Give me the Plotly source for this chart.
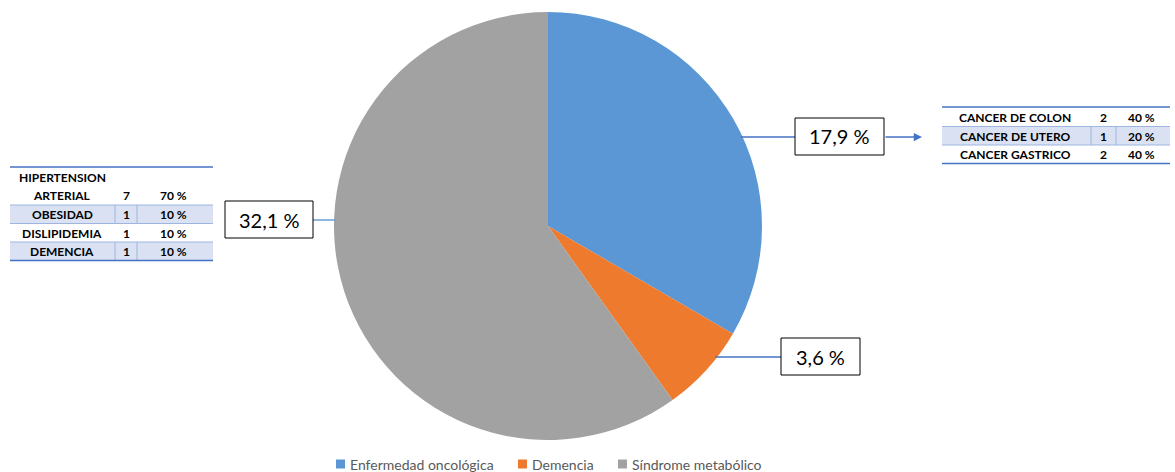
import math
import plotly.graph_objects as go

# Pie data
categories = ["Enfermedad oncológica", "Demencia", "Síndrome metabólico"]
percentages = [17.9, 3.6, 32.1]
slice_colors = ["#5A97D4", "#EE7A2E", "#A2A2A2"]

# Sub-tables
onco_names = ["CANCER DE COLON", "CANCER DE UTERO", "CANCER GASTRICO"]
onco_counts = [2, 1, 2]
onco_pcts = [40, 20, 40]

meta_names = ["HIPERTENSION<br>ARTERIAL", "OBESIDAD", "DISLIPIDEMIA", "DEMENCIA"]
meta_counts = [7, 1, 1, 1]
meta_pcts = [70, 10, 10, 10]

W, H = 1175, 472
FONT = "Lato, 'Open Sans', sans-serif"

def px(x):
    return x / W

def py(y):
    return 1 - y / H

def fmt(v):
    return f"{v:.1f}".replace(".", ",") + " %"

# pie geometry in pixels
cx, cy, r = 548, 226, 214

fig = go.Figure(go.Pie(
    labels=categories,
    values=percentages,
    sort=False,
    direction="clockwise",
    rotation=0,
    textinfo="none",
    hoverinfo="label+value",
    marker=dict(colors=slice_colors, line=dict(width=0)),
    domain=dict(x=[px(cx - r), px(cx + r)], y=[py(cy + r), py(cy - r)]),
    showlegend=False,
))

shapes = []
annotations = []

def edge_x(y, side):
    dy = y - cy
    return cx + side * math.sqrt(max(r * r - dy * dy, 0))

# value label boxes: (value index, box x0, box y0, box width, line y, side, line colour)
boxes = [
    (0, 795, 118, 89, 137, 1, "#4472C4"),
    (1, 781, 338, 79, 357, 1, "#4472C4"),
    (2, 225, 201, 88, 220, -1, "#6A9FD6"),
]
for i, bx, by, bw, ly, side, lc in boxes:
    bh = 37
    if side == 1:
        x0, x1 = edge_x(ly, 1) - 2, bx
    else:
        x0, x1 = bx + bw, edge_x(ly, -1) + 2
    shapes.append(dict(type="line", xref="paper", yref="paper",
                       x0=px(x0), x1=px(x1), y0=py(ly), y1=py(ly),
                       line=dict(color=lc, width=1.5)))
    shapes.append(dict(type="rect", xref="paper", yref="paper",
                       x0=px(bx), x1=px(bx + bw), y0=py(by + bh), y1=py(by),
                       line=dict(color="#000000", width=1), fillcolor="#FFFFFF"))
    annotations.append(dict(xref="paper", yref="paper", x=px(bx + bw / 2), y=py(by + bh / 2),
                            text=fmt(percentages[i]), showarrow=False,
                            font=dict(family=FONT, size=20, color="#000000"),
                            xanchor="center", yanchor="middle"))

# arrow from the oncology box to its table
annotations.append(dict(xref="paper", yref="paper", x=px(922), y=py(137),
                        ax=-38, ay=0, axref="pixel", ayref="pixel",
                        text="", showarrow=True, arrowhead=2, arrowsize=1.1,
                        arrowwidth=1.5, arrowcolor="#4472C4"))

TBL_LINE = "#4472C4"
SHADE = "#D9E1F2"
SEP = "#9DB5DF"
tfont = dict(family=FONT, size=12, color="#000000")

def table(x0, x1, top, rows, name_x, cnt_x, pct_x, seps, shaded):
    # rows: list of (name, count, pct, y_center, y0, y1)
    shapes.append(dict(type="line", xref="paper", yref="paper", x0=px(x0), x1=px(x1),
                       y0=py(top), y1=py(top), line=dict(color=TBL_LINE, width=1.5)))
    bottom = rows[-1][5]
    for k, (name, cnt, pct, yc, y0, y1) in enumerate(rows):
        if k in shaded:
            shapes.append(dict(type="rect", xref="paper", yref="paper", layer="below",
                               x0=px(x0), x1=px(x1), y0=py(y1), y1=py(y0),
                               fillcolor=SHADE, line=dict(width=0)))
            shapes.append(dict(type="line", xref="paper", yref="paper", x0=px(x0), x1=px(x1),
                               y0=py(y0), y1=py(y0), line=dict(color=SEP, width=1)))
            shapes.append(dict(type="line", xref="paper", yref="paper", x0=px(x0), x1=px(x1),
                               y0=py(y1), y1=py(y1), line=dict(color=SEP, width=1)))
            for sx in seps:
                shapes.append(dict(type="line", xref="paper", yref="paper", x0=px(sx), x1=px(sx),
                                   y0=py(y1), y1=py(y0), line=dict(color=SEP, width=1)))
        if "<br>" in name:
            first, second = name.split("<br>")
            annotations.append(dict(xref="paper", yref="paper", x=px(name_x), y=py(yc - 18),
                                    text=f"<b>{first}</b>", showarrow=False, font=tfont,
                                    xanchor="center", yanchor="middle"))
            annotations.append(dict(xref="paper", yref="paper", x=px(name_x), y=py(yc),
                                    text=f"<b>{second}</b>", showarrow=False, font=tfont,
                                    xanchor="center", yanchor="middle"))
        else:
            annotations.append(dict(xref="paper", yref="paper", x=px(name_x), y=py(yc),
                                    text=f"<b>{name}</b>", showarrow=False, font=tfont,
                                    xanchor="center", yanchor="middle"))
        annotations.append(dict(xref="paper", yref="paper", x=px(cnt_x), y=py(yc),
                                text=f"<b>{cnt}</b>", showarrow=False, font=tfont,
                                xanchor="center", yanchor="middle"))
        annotations.append(dict(xref="paper", yref="paper", x=px(pct_x), y=py(yc),
                                text=f"<b>{pct} %</b>", showarrow=False, font=tfont,
                                xanchor="center", yanchor="middle"))
    shapes.append(dict(type="line", xref="paper", yref="paper", x0=px(x0), x1=px(x1),
                       y0=py(bottom), y1=py(bottom), line=dict(color=TBL_LINE, width=1.5)))

# oncology table (right)
onco_rows = []
for k in range(len(onco_names)):
    y0 = 108 + 18.5 * k
    onco_rows.append((onco_names[k], onco_counts[k], onco_pcts[k], y0 + 9.5, y0, y0 + 18.5))
table(942, 1170, 107, onco_rows, 1015, 1103, 1141, [1091, 1116], {1})

# metabolic syndrome table (left)
meta_rows = [(meta_names[0], meta_counts[0], meta_pcts[0], 195, 168, 205)]
for k in range(1, len(meta_names)):
    y0 = 205 + 18.5 * (k - 1)
    meta_rows.append((meta_names[k], meta_counts[k], meta_pcts[k], y0 + 9.5, y0, y0 + 18.5))
table(10, 213, 167, meta_rows, 62, 126, 173, [115, 137], {1, 3})

# legend drawn as coloured squares with labels
legend_x = [340, 522, 622]
legend_y = 464
for name, col, lx in zip(categories, slice_colors, legend_x):
    shapes.append(dict(type="rect", xref="paper", yref="paper",
                       x0=px(lx - 4), x1=px(lx + 5), y0=py(legend_y + 4.5), y1=py(legend_y - 4.5),
                       fillcolor=col, line=dict(width=0)))
    annotations.append(dict(xref="paper", yref="paper", x=px(lx + 8), y=py(legend_y),
                            text=name, showarrow=False,
                            font=dict(family=FONT, size=14, color="#595959"),
                            xanchor="left", yanchor="middle"))

fig.update_layout(
    width=W, height=H,
    margin=dict(l=0, r=0, t=0, b=0),
    paper_bgcolor="#FFFFFF",
    plot_bgcolor="#FFFFFF",
    shapes=shapes,
    annotations=annotations,
    showlegend=False,
)

fig.write_html("out.html")
